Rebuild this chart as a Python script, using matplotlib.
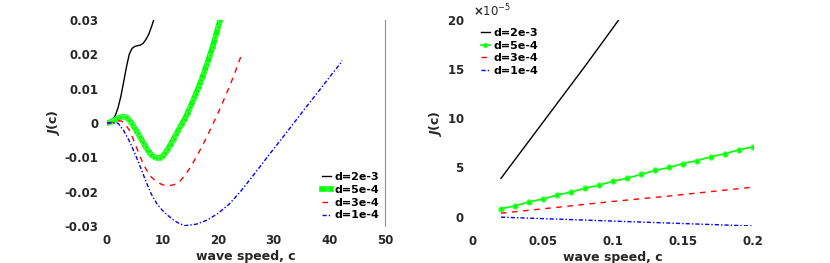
import matplotlib
matplotlib.use('Agg')
import matplotlib.pyplot as plt
import matplotlib.ticker as ticker
import numpy as np

# left panel: J(c) over the full speed range
c_2e3 = [0, 0.5, 1, 1.5, 2, 2.5, 3, 3.5, 4, 4.5, 5, 5.5, 6, 6.5, 7, 7.5, 8, 8.4]
J_2e3 = [0, 0.0002, 0.0009, 0.0022, 0.0045, 0.0078, 0.0120, 0.0163, 0.0200, 0.0217,
         0.0223, 0.0225, 0.0227, 0.0232, 0.0243, 0.0258, 0.0280, 0.0300]

c_5e4 = [0, 0.5, 1, 1.5, 2, 2.5, 3, 3.5, 4, 4.5, 5, 5.5, 6, 6.5, 7, 7.5, 8, 8.5, 9, 9.5,
         10, 10.5, 11, 11.5, 12, 12.5, 13, 13.5, 14, 14.5, 15, 15.5, 16, 16.5, 17, 17.5,
         18, 18.5, 19, 19.5, 20, 20.3]
J_5e4 = [0, 0.0002, 0.0006, 0.0010, 0.0014, 0.0017, 0.0018, 0.0017, 0.0009, -0.0002,
         -0.0015, -0.0028, -0.0042, -0.0056, -0.0070, -0.0083, -0.0093, -0.0099, -0.0102, -0.0102,
         -0.0097, -0.0087, -0.0075, -0.0061, -0.0046, -0.0031, -0.0016, -0.0002, 0.0012, 0.0029,
         0.0047, 0.0066, 0.0085, 0.0105, 0.0126, 0.0149, 0.0172, 0.0197, 0.0222, 0.0250,
         0.0280, 0.0298]

c_3e4 = [0, 1, 2, 2.5, 3, 4, 5, 6, 7, 8, 9, 10, 11, 12, 13, 14, 15, 16, 17, 18, 19, 20,
         21, 22, 23, 24, 24.3]
J_3e4 = [0, 0.0002, 0.0006, 0.0006, 0.0002, -0.0020, -0.0058, -0.0100, -0.0134, -0.0158,
         -0.0172, -0.0180, -0.0183, -0.0180, -0.0172, -0.0153, -0.0129, -0.0101, -0.0071,
         -0.0039, -0.0005, 0.0030, 0.0067, 0.0105, 0.0146, 0.0190, 0.0203]

c_1e4 = [0, 1, 2, 3, 4, 5, 6, 7, 8, 9, 10, 11, 12, 13, 14, 16, 18, 20, 22, 24, 26, 28,
         30, 32, 34, 36, 38, 40, 42, 42.3]
J_1e4 = [0, 0, -0.0001, -0.0022, -0.0052, -0.0088, -0.0128, -0.0170, -0.0208, -0.0236,
         -0.0255, -0.0270, -0.0283, -0.0293, -0.0299, -0.0295, -0.0283, -0.0263, -0.0236,
         -0.0200, -0.0159, -0.0117, -0.0075, -0.0034, 0.0008, 0.0050, 0.0091, 0.0133,
         0.0174, 0.0182]

# right panel: zoom on small speeds
cs_2e3 = [0.02, 0.04, 0.06, 0.08, 0.10, 0.105]
Js_2e3 = [3.9e-5, 7.7e-5, 11.5e-5, 15.3e-5, 19.2e-5, 20.2e-5]

cs_5e4 = [0.02, 0.03, 0.04, 0.05, 0.06, 0.07, 0.08, 0.09, 0.10, 0.11, 0.12, 0.13, 0.14,
          0.15, 0.16, 0.17, 0.18, 0.19, 0.20]
Js_5e4 = [0.8e-5, 1.1e-5, 1.5e-5, 1.8e-5, 2.2e-5, 2.5e-5, 2.9e-5, 3.2e-5, 3.6e-5, 3.9e-5,
          4.3e-5, 4.7e-5, 5.0e-5, 5.4e-5, 5.7e-5, 6.1e-5, 6.4e-5, 6.8e-5, 7.1e-5]

cs_3e4 = [0.02, 0.06, 0.10, 0.14, 0.20]
Js_3e4 = [0.35e-5, 0.95e-5, 1.55e-5, 2.1e-5, 3.0e-5]

cs_1e4 = [0.02, 0.06, 0.10, 0.14, 0.20]
Js_1e4 = [-0.05e-5, -0.25e-5, -0.45e-5, -0.65e-5, -0.95e-5]

labels = ['d=2e-3', 'd=5e-4', 'd=3e-4', 'd=1e-4']
xticks_left = [0, 10, 20, 30, 40, 50]
yticks_left = [-0.03, -0.02, -0.01, 0, 0.01, 0.02, 0.03]
xticks_right = [0, 0.05, 0.1, 0.15, 0.2]
yticks_right = [0, 5e-5, 10e-5, 15e-5, 20e-5]

txt = '#262626'
plt.rcParams['font.family'] = 'DejaVu Sans'
plt.rcParams['font.size'] = 8.5
plt.rcParams['font.weight'] = 'bold'

fig = plt.figure(figsize=(8.3, 2.63), dpi=100)
ax1 = fig.add_axes([0.1289, 0.1407, 0.3349, 0.7833])
ax2 = fig.add_axes([0.5699, 0.1388, 0.3373, 0.7852])

green = '#00ff00'
dashdot = (0, (3, 1.5, 1, 1.5))

#left plot
ax1.plot(c_2e3, J_2e3, color='k', lw=1, label=labels[0])
ax1.plot(c_5e4, J_5e4, color=green, lw=4, marker='o', ms=3, mfc=green, mec='#50ff50', mew=0.8, label=labels[1])
ax1.plot(c_3e4, J_3e4, color='r', lw=1, ls=(0, (4, 4)), label=labels[2])
ax1.plot(c_1e4, J_1e4, color='b', lw=1, ls=dashdot, label=labels[3])
ax1.set_xlim(0, 50)
ax1.set_ylim(-0.03, 0.03)
ax1.set_xticks(xticks_left)
ax1.set_yticks(yticks_left)
ax1.set_yticklabels(['-0.03', '-0.02', '-0.01', '0', '0.01', '0.02', '0.03'])

#right plot
ax2.plot(cs_2e3, Js_2e3, color='k', lw=1, label=labels[0])
ax2.plot(cs_5e4, Js_5e4, color=green, lw=1.2, marker='o', ms=3.5, mfc=green, mec='#40ff40', label=labels[1])
ax2.plot(cs_3e4, Js_3e4, color='r', lw=1, ls=(0, (4, 4)), label=labels[2])
ax2.plot(cs_1e4, Js_1e4, color='b', lw=1, ls=dashdot, label=labels[3])
ax2.set_xlim(0, 0.2)
ax2.set_ylim(-1e-5, 20e-5)
ax2.set_xticks(xticks_right)
ax2.set_xticklabels(['0', '0.05', '0.1', '0.15', '0.2'])
ax2.set_yticks(yticks_right)
fmt = ticker.ScalarFormatter(useMathText=True)
fmt.set_powerlimits((-5, -5))
ax2.yaxis.set_major_formatter(fmt)
off = ax2.yaxis.get_offset_text()
off.set_color(txt)
off.set_fontsize(8.5)
off.set_fontweight('normal')

for ax in (ax1, ax2):
    for s in ['left', 'top', 'bottom', 'right']:
        ax.spines[s].set_visible(False)
    ax.tick_params(length=0, colors=txt, labelsize=8.5, pad=6)
    ax.set_xlabel('wave speed, c', color=txt, fontsize=9, fontweight='bold', labelpad=2)
    ax.set_ylabel(r'$\mathit{J}$(c)', color=txt, fontsize=9, fontweight='bold', labelpad=2)

ax1.spines['right'].set_visible(True)
ax1.spines['right'].set_color('#909090')

ax1.legend(loc='lower right', frameon=False, handlelength=0.8, handletextpad=0.3,
           labelspacing=0.25, fontsize=8, borderaxespad=0.1, markerscale=0.8)
ax2.legend(loc='upper left', frameon=False, handlelength=0.8, handletextpad=0.3,
           labelspacing=0.25, fontsize=8, borderaxespad=0.3, markerscale=0.8)

plt.savefig('out.png', dpi=100)
